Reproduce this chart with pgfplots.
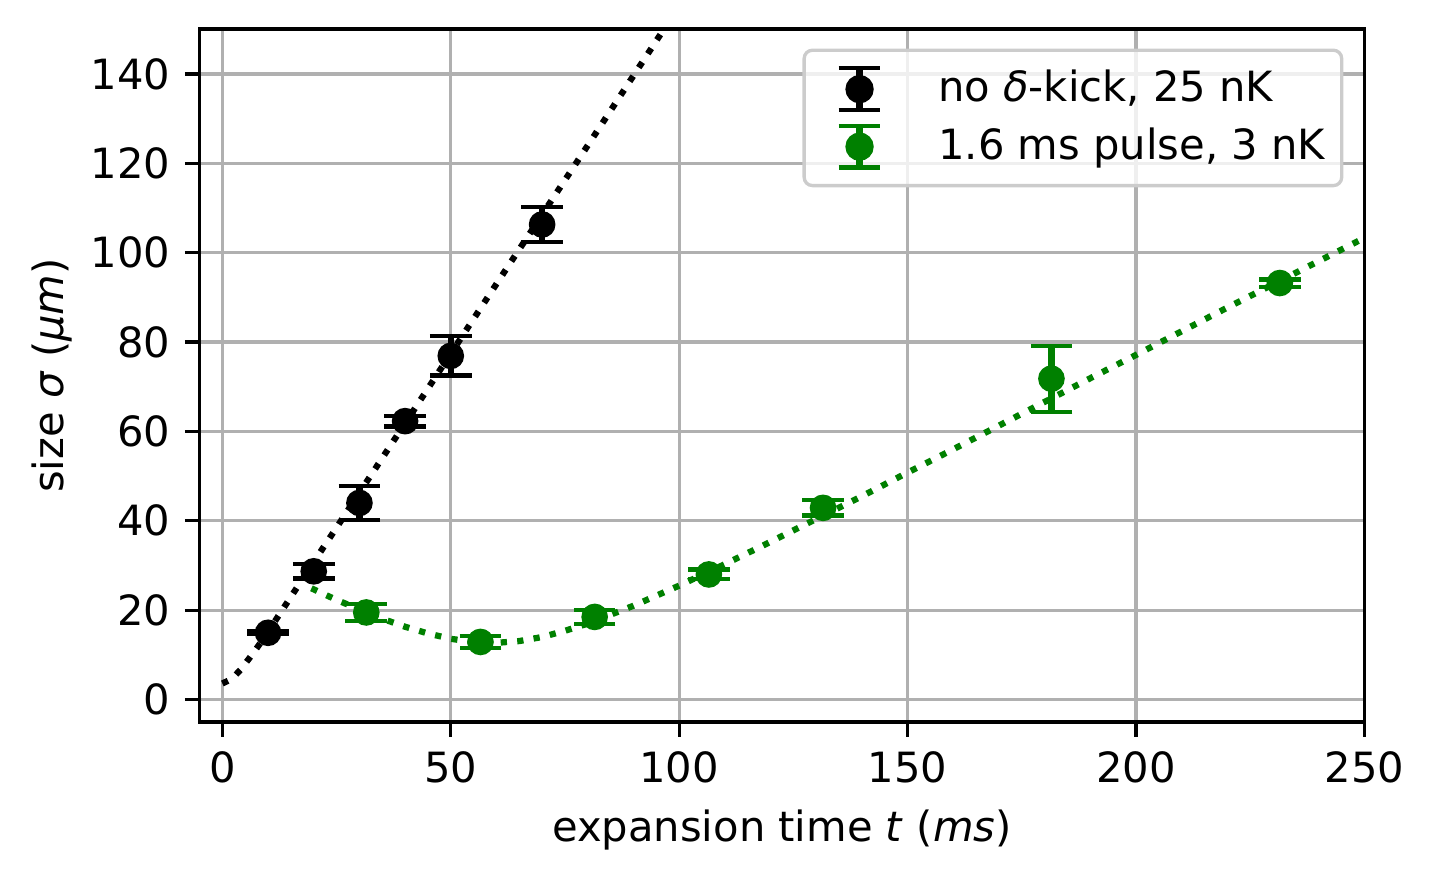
\documentclass[border=0pt]{standalone}
\usepackage{fontspec}
\setmainfont{DejaVu Sans}
\usepackage{pgfplots}
\pgfplotsset{compat=1.18}
\definecolor{mplgreen}{HTML}{008000}
\definecolor{gridgray}{HTML}{B0B0B0}
\definecolor{legedge}{HTML}{CCCCCC}

\pgfplotstableread{
t s e
10 14.95 0.3
20 28.7 1.6
30 44.0 3.8
40 62.3 1.2
50 76.9 4.4
70 106.3 4.0
}\nokick

\pgfplotstableread{
t s e
31.5 19.5 1.9
56.5 12.9 1.3
81.5 18.5 1.5
106.5 28.0 1.1
131.5 42.9 1.7
181.5 71.8 7.4
231.5 93.2 0.8
}\pulse

\tikzset{fitline/.style={line width=1.5pt, dash pattern=on 1.5pt off 2.475pt, line cap=butt}}

% legend symbol: error bar with caps and a dot
\newcommand{\errsym}[1]{%
  \path[draw=none, fill=none] (0pt,-3pt) rectangle (28.2pt,3pt);
  \begin{scope}[fill opacity=1, draw opacity=1, sharp corners]
  \draw[#1, line width=1.5pt] (12.3pt,-5pt) -- (12.3pt,5pt);
  \draw[#1, line width=1pt] (7.3pt,-5pt) -- (17.3pt,-5pt) (7.3pt,5pt) -- (17.3pt,5pt);
  \fill[#1] (12.3pt,0pt) circle (3pt);
  \end{scope}}

\begin{document}
\begin{tikzpicture}
  \useasboundingbox (-47.9pt,-38.3pt) rectangle (295.6pt,173.3pt);
  \begin{axis}[
    scale only axis, width=279.6pt, height=166.3pt,
    xmin=-5, xmax=250, ymin=-5, ymax=150,
    xtick={0,50,...,250}, ytick={0,20,...,140},
    xtick pos=left, ytick pos=left, tick align=outside,
    major tick length=3.5pt,
    tick style={black, line width=0.8pt},
    axis line style={line width=0.8pt},
    grid=major, major grid style={gridgray, line width=0.8pt},
    font=\fontsize{10}{12}\selectfont,
    /pgf/number format/assume math mode=true,
    xlabel={expansion time \textit{t} (\textit{ms})},
    ylabel={size \textit{σ} (\textit{μm})},
    xlabel style={at={(axis description cs:0.5,-0.172)}, anchor=base},
    ylabel style={at={(axis description cs:-0.117,0.5)}, anchor=base},
    legend style={at={(0.982,0.972)}, anchor=north east, draw=legedge,
      rounded corners=2pt, fill=white, fill opacity=0.8, text opacity=1,
      line width=0.8pt, inner xsep=1pt, inner ysep=2.8pt, row sep=0.7pt,
      nodes={inner xsep=3pt, inner ysep=2pt}},
    legend cell align=left,
  ]
    \addplot[fitline, black, forget plot] coordinates {
      (0,3.6)(2,4.6)(4,6.7)(6,9.4)(8,12.2)(10,15.2)(15,23.0)(20,30.8)
      (25,38.5)(30,46.3)(40,61.8)(50,77.4)(60,93.0)(70,108.5)(80,124.0)
      (90,139.6)(100,155.2)};
    \addplot[fitline, mplgreen, forget plot] coordinates {
      (19.5,24.9)(25,22.3)(30,20.2)(35,18.1)(40,16.3)(45,14.8)(50,13.6)
      (55,12.9)(60,12.7)(65,13.1)(70,14.0)(75,15.4)(80,17.0)(90,21.0)
      (100,25.5)(110,30.3)(120,35.3)(130,40.4)(140,45.5)(150,50.8)
      (160,56.0)(170,61.3)(180,66.6)(190,71.9)(200,77.1)(210,82.4)
      (220,87.7)(230,92.9)(240,98.1)(250,103.3)};

    \addplot[black, only marks, mark=*, mark size=3pt,
      legend image code/.code={\errsym{black}},
      error bars/.cd, y dir=both, y explicit,
      error bar style={line width=1.5pt},
      error mark options={black, mark size=5pt, line width=1pt, rotate=90},
    ] table[x=t, y=s, y error=e] {\nokick};
    \addlegendentry{no \textit{δ}-kick, 25 nK}
    \addplot[mplgreen, only marks, mark=*, mark size=3pt,
      legend image code/.code={\errsym{mplgreen}},
      error bars/.cd, y dir=both, y explicit,
      error bar style={line width=1.5pt},
      error mark options={mplgreen, mark size=5pt, line width=1pt, rotate=90},
    ] table[x=t, y=s, y error=e] {\pulse};
    \addlegendentry{1.6 ms pulse, 3 nK}
  \end{axis}
\end{tikzpicture}
\end{document}
